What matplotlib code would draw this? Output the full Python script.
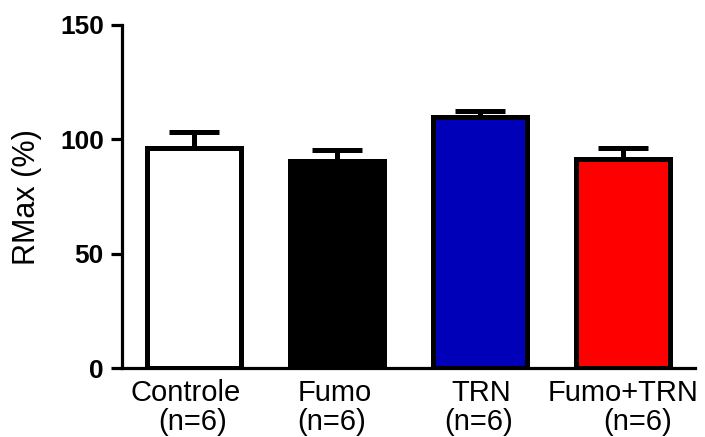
"""
RMax (%) bar chart: Controle / Fumo / TRN / Fumo+TRN, mean + SEM (upper only).
"""
import matplotlib
matplotlib.use("Agg")
import matplotlib.pyplot as plt
import matplotlib.transforms as mtransforms

plt.rcParams["font.family"] = ["Liberation Sans", "DejaVu Sans"]

GROUPS = ["Controle", "Fumo", "TRN", "Fumo+TRN"]
N_LABELS = ["(n=6)", "(n=6)", "(n=6)", "(n=6)"]
RMAX = [96.2, 90.6, 110.0, 91.4]
SEM = [7.2, 4.8, 2.5, 4.7]
COLORS = ["#FFFFFF", "#000000", "#0000B8", "#FF0000"]
Y_TICKS = [0, 50, 100, 150]

# small horizontal nudges of the two label lines (data units)
NUDGE_NAME = [-0.056, -0.017, 0.007, 0.0]
NUDGE_N = [-0.01, -0.037, -0.007, 0.10]


def main():
    fig = plt.figure(figsize=(7.05, 4.37), dpi=100)
    ax = fig.add_axes([0.1730, 0.1572, 0.8128, 0.7856])

    x = list(range(len(GROUPS)))
    lower = [0] * len(SEM)
    ax.errorbar(x, RMAX, yerr=[lower, SEM], fmt="none", ecolor="black",
                elinewidth=3.6, capsize=18, capthick=3.6, zorder=2,
                solid_capstyle="round")
    ax.bar(x, RMAX, width=0.655, color=COLORS, edgecolor="black",
           linewidth=3.6, zorder=3)

    ax.set_xlim(-0.5, 3.5)
    ax.set_ylim(0, 150)
    ax.set_yticks(Y_TICKS)
    ax.set_yticklabels([str(t) for t in Y_TICKS], fontsize=19,
                       fontweight="bold")
    ax.set_xticks([])

    for side in ("top", "right"):
        ax.spines[side].set_visible(False)
    for side in ("left", "bottom"):
        ax.spines[side].set_linewidth(2.3)
    ax.tick_params(axis="y", length=8, width=2.3, pad=5)

    ax.set_ylabel("RMax (%)", fontsize=22)
    ax.yaxis.set_label_coords(-0.14, 0.5)

    # two-line category labels under the bars
    trans = mtransforms.blended_transform_factory(ax.transData, fig.transFigure)
    for i, (name, n) in enumerate(zip(GROUPS, N_LABELS)):
        ax.text(i + NUDGE_NAME[i], 1 - 401 / 437, name, transform=trans,
                ha="center", va="baseline", fontsize=21)
        ax.text(i + NUDGE_N[i], 1 - 430 / 437, n, transform=trans,
                ha="center", va="baseline", fontsize=21)

    fig.savefig("out.png", dpi=100)


if __name__ == "__main__":
    main()
